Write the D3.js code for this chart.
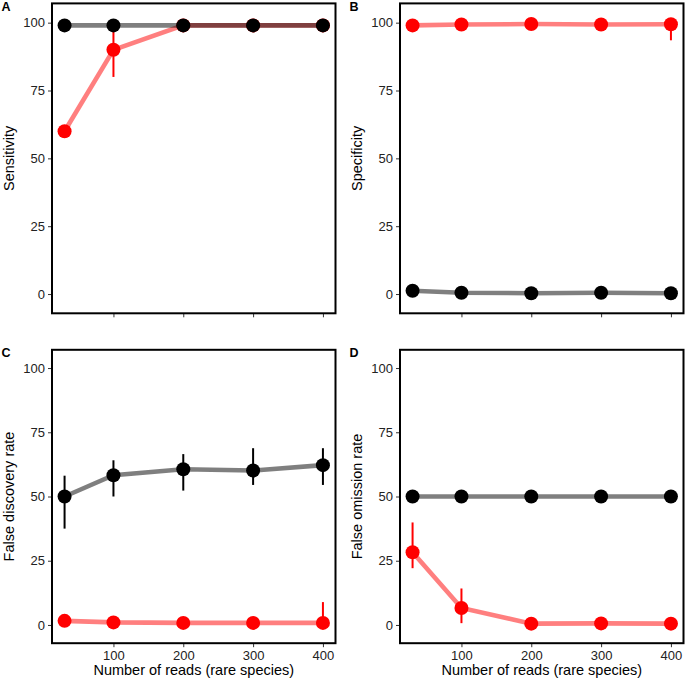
<!DOCTYPE html>
<html>
<head>
<meta charset="utf-8">
<script src="https://cdn.jsdelivr.net/npm/d3@7"></script>
<style>
body { margin: 0; background: #fff; }
svg { display: block; }
</style>
</head>
<body>
<svg id="chart" width="685" height="683"></svg>
<script>
// ---- data ----
const reads = [30, 100, 200, 300, 400];
const xTicks = [100, 200, 300, 400];
const yTicks = [0, 25, 50, 75, 100];
const panelLetters = ["A", "B", "C", "D"];
const panelTitles = ["Sensitivity", "Specificity", "False discovery rate", "False omission rate"];
const xTitle = "Number of reads (rare species)";

const sensitivityRed = [60, 90, 99, 99, 99];
const sensitivityRedLow = [null, 80, null, null, null];
const sensitivityRedHigh = [null, 100, null, null, null];
const sensitivityBlack = [99, 99, 99, 99, 99];

const specificityRed = [99, 99.3, 99.5, 99.3, 99.4];
const specificityRedLow = [null, null, null, null, 93.5];
const specificityRedHigh = [null, null, null, null, 100];
const specificityBlack = [1.2, 0.5, 0.3, 0.5, 0.3];

const fdrRed = [1.6, 1.0, 0.8, 0.8, 0.8];
const fdrRedLow = [null, null, null, null, 0];
const fdrRedHigh = [null, null, null, null, 8.9];
const fdrBlack = [50, 58.3, 60.6, 60.1, 62.2];
const fdrBlackLow = [37.5, 50, 52.3, 54.5, 54.5];
const fdrBlackHigh = [58.1, 64.1, 66.5, 68.8, 68.8];

const forRed = [28.3, 6.6, 0.5, 0.6, 0.5];
const forRedLow = [22.1, 0.7, null, null, null];
const forRedHigh = [39.9, 14.2, null, null, null];
const forBlack = [50, 50, 50, 50, 50];

const svg = d3.select("#chart");
const font = "Liberation Sans, Arial, Helvetica, sans-serif";

const panels = [
  { red: sensitivityRed, redLo: sensitivityRedLow, redHi: sensitivityRedHigh, black: sensitivityBlack, blackLo: null, blackHi: null,
    x0: 52, x1: 335.5, y0: 3.4, y1: 313.3, xLabels: false },
  { red: specificityRed, redLo: specificityRedLow, redHi: specificityRedHigh, black: specificityBlack, blackLo: null, blackHi: null,
    x0: 400, x1: 683.5, y0: 3.4, y1: 313.3, xLabels: false },
  { red: fdrRed, redLo: fdrRedLow, redHi: fdrRedHigh, black: fdrBlack, blackLo: fdrBlackLow, blackHi: fdrBlackHigh,
    x0: 52, x1: 335.5, y0: 349.8, y1: 643.2, xLabels: true },
  { red: forRed, redLo: forRedLow, redHi: forRedHigh, black: forBlack, blackLo: null, blackHi: null,
    x0: 400, x1: 683.5, y0: 349.8, y1: 643.2, xLabels: true }
];

panels.forEach((p, i) => {
  const x = d3.scaleLinear().domain([12, 418]).range([p.x0, p.x1]);
  const y = d3.scaleLinear().domain([-7.1, 107.1]).range([p.y1, p.y0]);
  const g = svg.append("g");

  // y axis
  const ya = g.append("g").attr("transform", `translate(${p.x0},0)`)
    .call(d3.axisLeft(y).tickValues(yTicks).tickSize(4).tickPadding(3));
  ya.select(".domain").remove();
  ya.selectAll("line").attr("stroke", "#333").attr("stroke-width", 1);
  ya.selectAll("text").attr("font-family", font).attr("font-size", 13).attr("fill", "#222");

  // x axis
  const xa = g.append("g").attr("transform", `translate(0,${p.y1})`)
    .call(d3.axisBottom(x).tickValues(xTicks).tickSize(4).tickPadding(3.6));
  xa.select(".domain").remove();
  xa.selectAll("line").attr("stroke", "#333").attr("stroke-width", 1);
  xa.selectAll("text").attr("font-family", font).attr("font-size", 13).attr("fill", "#222");
  if (!p.xLabels) xa.selectAll("text").remove();

  // frame
  g.append("rect").attr("x", p.x0).attr("y", p.y0)
    .attr("width", p.x1 - p.x0).attr("height", p.y1 - p.y0)
    .attr("fill", "none").attr("stroke", "#000").attr("stroke-width", 2);

  const line = d3.line().x((d, j) => x(reads[j])).y(d => y(d));

  function series(vals, lo, hi, color) {
    g.append("path").datum(vals).attr("d", line)
      .attr("fill", "none").attr("stroke", color).attr("stroke-opacity", 0.5)
      .attr("stroke-width", 4.6);
    if (lo) {
      reads.forEach((r, j) => {
        if (lo[j] == null) return;
        g.append("line").attr("x1", x(r)).attr("x2", x(r))
          .attr("y1", y(lo[j])).attr("y2", y(hi[j]))
          .attr("stroke", color).attr("stroke-width", 2);
      });
    }
    g.selectAll(null).data(vals).enter().append("circle")
      .attr("cx", (d, j) => x(reads[j])).attr("cy", d => y(d))
      .attr("r", 7).attr("fill", color);
  }
  series(p.red, p.redLo, p.redHi, "#ff0000");
  series(p.black, p.blackLo, p.blackHi, "#000000");

  // y title
  const tx = p.x0 - 37.7;
  const ty = (p.y0 + p.y1) / 2;
  g.append("text").attr("transform", `translate(${tx},${ty}) rotate(-90)`)
    .attr("text-anchor", "middle").attr("font-family", font).attr("font-size", 14.5)
    .attr("fill", "#000").text(panelTitles[i]);

  // x title
  if (p.xLabels) {
    g.append("text").attr("x", (p.x0 + p.x1) / 2).attr("y", 675)
      .attr("text-anchor", "middle").attr("font-family", font).attr("font-size", 14.5)
      .attr("fill", "#000").text(xTitle);
  }

  // panel letter
  g.append("text").attr("x", p.x0 - 50.5).attr("y", p.y0 + 7.6)
    .attr("font-family", font).attr("font-size", 12.5).attr("font-weight", "bold")
    .attr("fill", "#000").text(panelLetters[i]);
});
</script>
</body>
</html>
